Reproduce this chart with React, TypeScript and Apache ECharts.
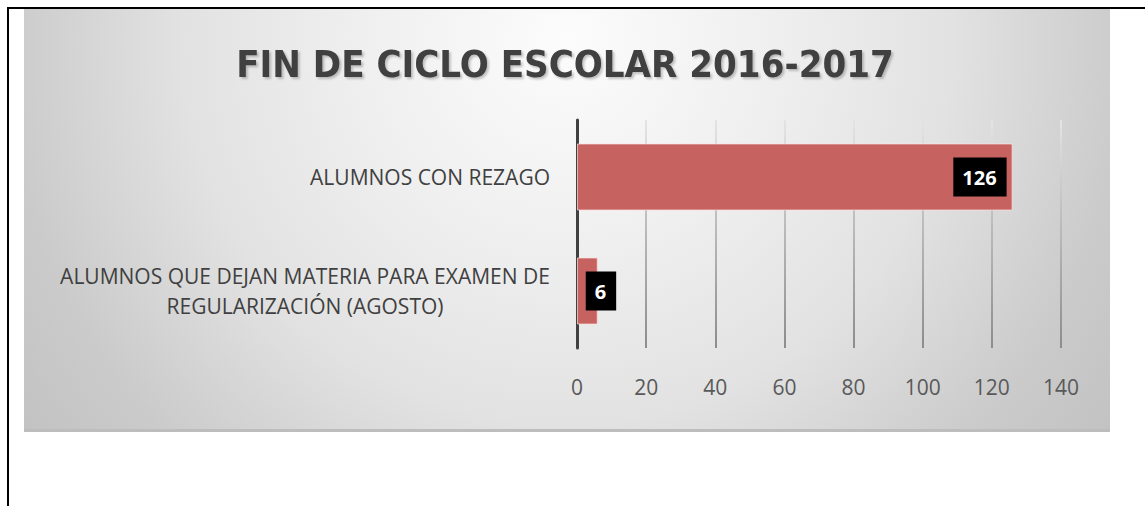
import React, { useEffect, useRef } from "react";
import * as echarts from "echarts";

const TITLE = "FIN DE CICLO ESCOLAR 2016-2017";
const CATEGORIES = [
  "ALUMNOS QUE DEJAN MATERIA PARA EXAMEN DE\nREGULARIZACIÓN (AGOSTO)",
  "ALUMNOS CON REZAGO",
];
const VALUES = [6, 126];
const X_MIN = 0;
const X_MAX = 140;
const X_STEP = 20;

const FONT = "'Open Sans', 'DejaVu Sans', sans-serif";
const TITLE_FONT = "'Liberation Sans Narrow', 'DejaVu Sans Condensed', 'Open Sans', sans-serif";

export default function App() {
  const ref = useRef<HTMLDivElement>(null);
  useEffect(() => {
    if (!ref.current) return;
    const chart = echarts.init(ref.current, undefined, { renderer: "svg" });
    const panelGrad = new echarts.graphic.RadialGradient(
      567,
      40,
      700,
      [
        { offset: 0, color: "#fcfcfc" },
        { offset: 0.3, color: "#efefef" },
        { offset: 0.55, color: "#e2e2e2" },
        { offset: 0.8, color: "#cbcbcb" },
        { offset: 1, color: "#c0c0c0" },
      ],
      true
    );
    const gridGrad = new echarts.graphic.LinearGradient(
      0,
      120,
      0,
      348,
      [
        { offset: 0, color: "#e4e4e4" },
        { offset: 1, color: "#8c8c8c" },
      ],
      true
    );
    const data = VALUES.map((v) => ({
      value: v,
      label:
        v < 20
          ? { position: "right", distance: 0, offset: [-12, 0] }
          : { position: "insideRight", distance: 6 },
    }));
    chart.setOption({
      animation: false,
      graphic: [
        { type: "rect", z: -10, shape: { x: 24, y: 9, width: 1086, height: 423 }, style: { fill: panelGrad }, silent: true },
        { type: "rect", z: -9, shape: { x: 24, y: 429, width: 1086, height: 3 }, style: { fill: "#bdbdbd" }, silent: true },
        { type: "rect", z: 10, shape: { x: 7, y: 7, width: 1138, height: 2 }, style: { fill: "#000" }, silent: true },
        { type: "rect", z: 10, shape: { x: 7, y: 7, width: 2, height: 499 }, style: { fill: "#000" }, silent: true },
        {
          type: "text",
          z: 5,
          x: 565,
          y: 64,
          style: {
            text: TITLE,
            fill: "#404040",
            font: `bold 38px ${TITLE_FONT}`,
            textAlign: "center",
            textVerticalAlign: "middle",
            textShadowColor: "rgba(0,0,0,0.22)",
            textShadowOffsetX: 2,
            textShadowOffsetY: 2,
            textShadowBlur: 2,
          },
          silent: true,
        },
      ],
      grid: { left: 577, right: 84, top: 120, bottom: 158, containLabel: false },
      xAxis: {
        type: "value",
        min: X_MIN,
        max: X_MAX,
        interval: X_STEP,
        axisLine: { show: false },
        axisTick: { show: false },
        axisLabel: { color: "#595959", fontSize: 21, fontFamily: FONT, margin: 28 },
        splitLine: { show: true, lineStyle: { color: gridGrad, width: 2 } },
      },
      yAxis: {
        type: "category",
        data: CATEGORIES,
        axisLine: { show: true, lineStyle: { color: "#404040", width: 3 } },
        axisTick: { show: false },
        axisLabel: {
          color: "#404040",
          fontSize: 21,
          fontFamily: FONT,
          margin: 27,
          align: "right",
          formatter: (v: string) =>
            v.includes("\n") ? v.split("\n").map((l) => `{c|${l}}`).join("\n") : v,
          rich: {
            c: { width: 490, align: "center", lineHeight: 30, fontSize: 21, fontFamily: FONT, color: "#404040" },
          },
        },
      },
      series: [
        {
          type: "bar",
          data,
          barWidth: 67,
          itemStyle: { color: "#c6625f", borderColor: "rgba(255,225,225,0.7)", borderWidth: 1 },
          label: {
            show: true,
            color: "#fff",
            fontWeight: "bold",
            fontSize: 20,
            fontFamily: FONT,
            lineHeight: 21,
            backgroundColor: "#000",
            padding: [9, 10, 9, 9],
          },
        },
      ],
    });
    return () => chart.dispose();
  }, []);
  return (
    <div
      ref={ref}
      style={{ position: "fixed", left: 0, top: 0, width: 1145, height: 506, background: "#fff" }}
    />
  );
}
